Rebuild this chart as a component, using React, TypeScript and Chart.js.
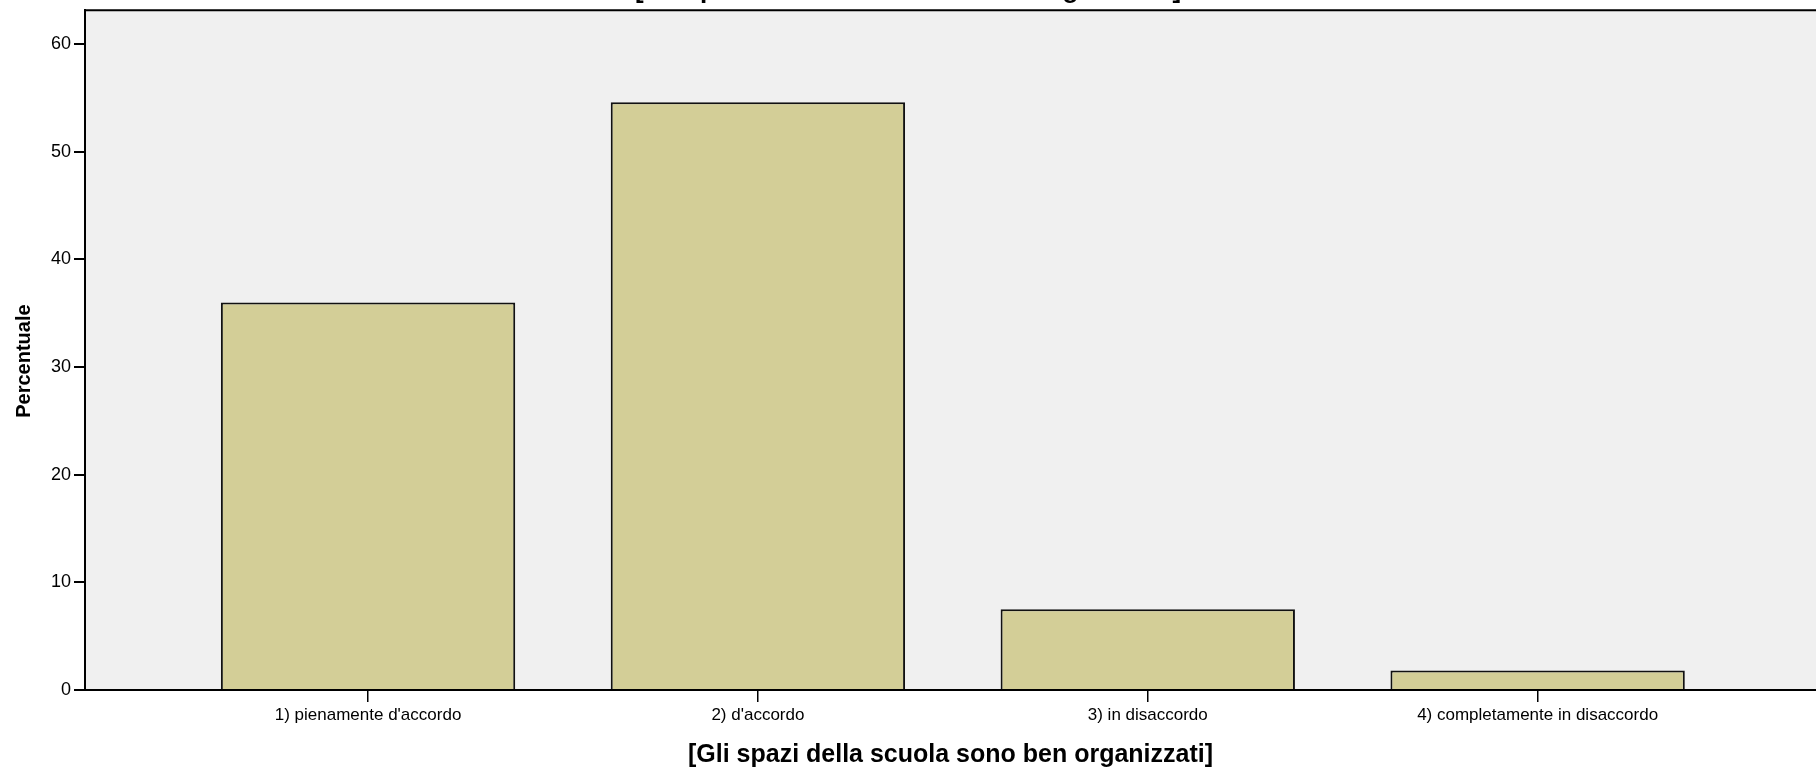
import { useEffect, useRef } from "react";
import { Chart, registerables } from "chart.js";

Chart.register(...registerables);

const categories = [
  "1) pienamente d'accordo",
  "2) d'accordo",
  "3) in disaccordo",
  "4) completamente in disaccordo",
];
const percentages = [36.0, 54.6, 7.5, 1.8];
const yTickValues = [0, 10, 20, 30, 40, 50, 60];
const chartTitle = "[Gli spazi della scuola sono ben organizzati]";
const xAxisTitle = "[Gli spazi della scuola sono ben organizzati]";
const yAxisTitle = "Percentuale";

const FONT = '"Liberation Sans", Arial, sans-serif';

const framePlugin = {
  id: "frame",
  beforeDraw(chart: any) {
    const { ctx, chartArea } = chart;
    const { left, top, right, bottom } = chartArea;
    ctx.save();
    ctx.fillStyle = "#F0F0F0";
    ctx.fillRect(left, top, right - left, bottom - top);
    ctx.restore();
  },
  afterDraw(chart: any) {
    const { ctx, chartArea } = chart;
    const { left, top, right, bottom } = chartArea;
    ctx.save();
    ctx.strokeStyle = "#000";
    ctx.lineWidth = 2;
    ctx.beginPath();
    ctx.moveTo(left, top);
    ctx.lineTo(right, top);
    ctx.stroke();
    // y axis title (placed slightly below the centre, as in the reference)
    ctx.translate(24, (top + bottom) / 2 + 11);
    ctx.rotate(-Math.PI / 2);
    ctx.fillStyle = "#000";
    ctx.font = `bold 20px ${FONT}`;
    ctx.textAlign = "center";
    ctx.textBaseline = "middle";
    ctx.fillText(yAxisTitle, 0, 0);
    ctx.restore();
  },
};

export default function App() {
  const canvasRef = useRef<HTMLCanvasElement | null>(null);

  useEffect(() => {
    if (!canvasRef.current) return;
    const chart = new Chart(canvasRef.current, {
      type: "bar",
      data: {
        datasets: [
          {
            data: percentages.map((v, i) => ({ x: i, y: v })),
            backgroundColor: "#D3CE97",
            borderColor: "#111",
            borderWidth: 2,
            barPercentage: 0.755,
            categoryPercentage: 1,
          },
        ],
      },
      options: {
        responsive: false,
        animation: false,
        layout: { padding: { top: 0, left: 0, right: 0, bottom: 0 } },
        plugins: {
          legend: { display: false },
          tooltip: { enabled: false },
          title: {
            display: true,
            text: chartTitle,
            color: "#000",
            font: { family: FONT, size: 26, weight: "bold", lineHeight: 1 },
            padding: { top: -24, bottom: 6 },
          },
        },
        scales: {
          x: {
            type: "linear",
            min: -0.726,
            max: 3.714,
            offset: false,
            afterBuildTicks: (scale: any) => {
              scale.ticks = categories.map((_, i) => ({ value: i }));
            },
            afterFit: (scale: any) => {
              scale.height = 82;
            },
            ticks: {
              color: "#000",
              font: { family: FONT, size: 17 },
              padding: 3,
              maxRotation: 0,
              autoSkip: false,
              callback: (v: any) => categories[v] ?? "",
            },
            grid: {
              offset: false,
              drawOnChartArea: false,
              drawTicks: true,
              tickLength: 12,
              color: "#000",
              lineWidth: 1.5,
            },
            border: { display: true, color: "#000", width: 2 },
            title: {
              display: true,
              text: xAxisTitle,
              color: "#000",
              font: { family: FONT, size: 25, weight: "bold", lineHeight: 1.2 },
              padding: { top: 0, bottom: 2 },
            },
          },
          y: {
            min: 0,
            max: 63.15,
            afterBuildTicks: (scale: any) => {
              scale.ticks = yTickValues.map((v) => ({ value: v }));
            },
            afterFit: (scale: any) => {
              scale.width = 85;
            },
            ticks: {
              color: "#000",
              font: { family: FONT, size: 18, lineHeight: 0.8 },
              padding: 3,
            },
            grid: {
              drawOnChartArea: false,
              drawTicks: true,
              tickLength: 11,
              color: "#000",
              lineWidth: 2,
            },
            border: { display: true, color: "#000", width: 2 },
            title: { display: false },
          },
        },
      },
      plugins: [framePlugin],
    } as any);
    return () => chart.destroy();
  }, []);

  return (
    <div style={{ position: "absolute", left: 0, top: 0, width: 1816, height: 772, background: "#fff" }}>
      <canvas ref={canvasRef} width={1816} height={772} style={{ display: "block" }} />
    </div>
  );
}
